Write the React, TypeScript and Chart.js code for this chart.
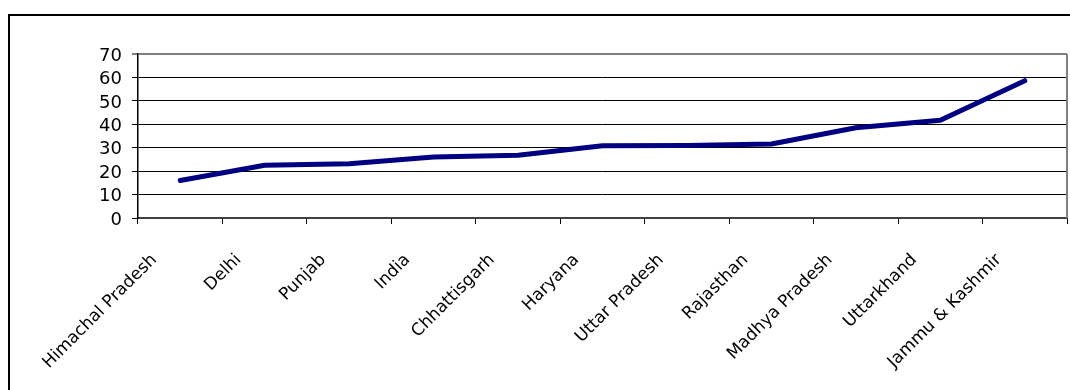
import React, { useEffect, useRef } from "react";
import { Chart, registerables } from "chart.js";

Chart.register(...registerables);

// Categories along the x axis
const states = [
  "Himachal Pradesh",
  "Delhi",
  "Punjab",
  "India",
  "Chhattisgarh",
  "Haryana",
  "Uttar Pradesh",
  "Rajasthan",
  "Madhya Pradesh",
  "Uttarkhand",
  "Jammu & Kashmir",
];

// Series values, one per category
const rates = [16, 22.5, 23.2, 26, 26.8, 30.8, 30.9, 31.6, 38.5, 41.7, 58.6];

// Value axis range
const yMin = 0;
const yMax = 70;
const yStep = 10;

// Grey right-hand edge of the plot area
const plotFrame = {
  id: "plotFrame",
  beforeDatasetsDraw(chart: any) {
    const { ctx, chartArea } = chart;
    ctx.save();
    ctx.strokeStyle = "#808080";
    ctx.lineWidth = 2;
    ctx.beginPath();
    ctx.moveTo(chartArea.right, chartArea.top);
    ctx.lineTo(chartArea.right, chartArea.bottom);
    ctx.stroke();
    ctx.restore();
  },
};

export default function App() {
  const canvasRef = useRef<HTMLCanvasElement | null>(null);

  useEffect(() => {
    const canvas = canvasRef.current;
    if (!canvas) return;
    const chart = new Chart(canvas, {
      type: "line",
      data: {
        labels: states,
        datasets: [
          {
            data: rates,
            borderColor: "#000080",
            backgroundColor: "#000080",
            borderWidth: 5,
            borderCapStyle: "round",
            borderJoinStyle: "round",
            pointRadius: 0,
            pointHoverRadius: 0,
            tension: 0,
            fill: false,
          },
        ],
      },
      options: {
        animation: false,
        responsive: false,
        devicePixelRatio: 1,
        events: [],
        layout: { padding: { top: 38, right: 3, left: 0, bottom: 0 } },
        plugins: {
          legend: { display: false },
          tooltip: { enabled: false },
          title: { display: false },
        },
        scales: {
          x: {
            type: "category",
            offset: true,
            grid: {
              offset: true,
              drawOnChartArea: false,
              drawTicks: true,
              tickLength: 6,
              color: "#000",
            },
            border: { color: "#404040", width: 2 },
            ticks: {
              autoSkip: false,
              minRotation: 45,
              maxRotation: 45,
              labelOffset: -26,
              padding: 26,
              color: "#000",
              font: { family: "'DejaVu Sans'", size: 17 },
            },
            afterFit: (s: any) => {
              s.height = 172;
            },
          },
          y: {
            min: yMin,
            max: yMax,
            ticks: {
              stepSize: yStep,
              autoSkip: false,
              padding: 10,
              labelOffset: 2,
              color: "#000",
              font: { family: "'DejaVu Sans'", size: 18 },
            },
            grid: {
              color: (c: any) => (c.tick && c.tick.value === yMax ? "#808080" : "#000"),
              lineWidth: (c: any) => (c.tick && c.tick.value === yMax ? 2 : 1),
              tickLength: 6,
              tickColor: "#000",
              tickWidth: 1,
            },
            border: { color: "#000", width: 1.5 },
            afterFit: (s: any) => {
              s.width = 128;
            },
          },
        },
      },
      plugins: [plotFrame],
    });
    return () => chart.destroy();
  }, []);

  return (
    <div
      style={{
        position: "fixed",
        left: 0,
        top: 0,
        width: 1070,
        height: 390,
        overflow: "hidden",
        background: "#fff",
      }}
    >
      <div
        style={{
          position: "absolute",
          left: 8,
          top: 14,
          width: 1200,
          height: 600,
          border: "2px solid #000",
          boxSizing: "border-box",
        }}
      />
      <canvas
        ref={canvasRef}
        width={1060}
        height={374}
        style={{ position: "absolute", left: 10, top: 16, width: 1060, height: 374 }}
      />
    </div>
  );
}
